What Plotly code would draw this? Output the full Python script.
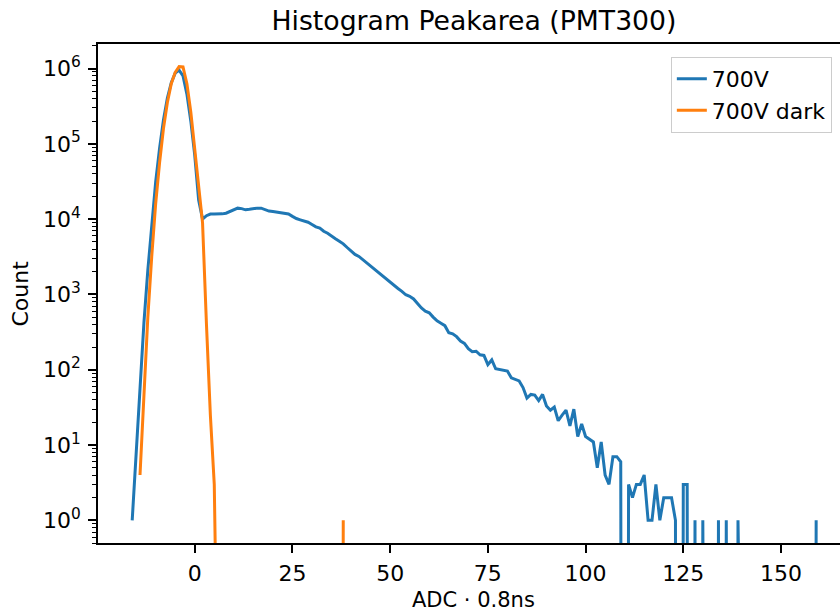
import numpy as np
import plotly.graph_objects as go

# ---- data (bin positions in ADC*0.8ns, counts per bin) ----
bins_700v = list(range(-16, 160))
counts_700v = [
    1, 8, 68, 420, 2100, 8900, 31000, 87000, 208000, 405000,
    650000, 870000, 955000, 800000, 457000, 200000, 71000, 18000, 10000, 11100,
    11700, 11700, 11700, 11750, 12000, 12600, 13300, 14000, 13800, 13300,
    13500, 13800, 14000, 14000, 13300, 12800, 12600, 12300, 12200, 12000,
    11700, 10900, 10200, 9800, 9400, 9100, 8500, 7900, 7600, 6900,
    6500, 5900, 5500, 5100, 4700, 4200, 3750, 3400, 3200, 2900,
    2620, 2400, 2140, 1950, 1740, 1600, 1450, 1320, 1200, 1100,
    990, 945, 870, 760, 660, 600, 570, 500, 445, 415,
    385, 310, 300, 275, 240, 224, 190, 174, 176, 158,
    155, 117, 135, 103, 100, 97, 96, 78, 74, 71,
    58, 42, 47, 46, 39, 47, 33, 29, 32, 21,
    25, 29, 18, 30, 13, 19, 13, 12, 11, 5,
    11, 4, 3, 7, 7, 6, 0, 3, 2, 3,
    3, 4, 1, 1, 3, 1, 2, 2, 2, 1,
    0, 3, 3, 0, 1, 0, 1, 0, 0, 0,
    1, 0, 1, 0, 0, 1, 0, 0, 0, 0,
    0, 0, 0, 0, 0, 0, 0, 0, 0, 0,
    0, 0, 0, 0, 0, 1,
]

bins_dark = list(range(-14, 39))
counts_dark = [
    4, 56, 500, 3200, 16000, 56000, 160000, 355000, 630000, 890000,
    1060000, 1050000, 630000, 263000, 89000, 28000, 8900, 400, 25, 3,
    0, 0, 0, 0, 0, 0, 0, 0, 0, 0,
    0, 0, 0, 0, 0, 0, 0, 0, 0, 0,
    0, 0, 0, 0, 0, 0, 0, 0, 0, 0,
    0, 0, 1,
]

series_names = ["700V", "700V dark"]
x_tick_vals = [0, 25, 50, 75, 100, 125, 150]
y_tick_vals = [1, 10, 100, 1000, 10000, 100000, 1000000]
y_tick_text = ["10<sup>0</sup>", "10<sup>1</sup>", "10<sup>2</sup>", "10<sup>3</sup>",
               "10<sup>4</sup>", "10<sup>5</sup>", "10<sup>6</sup>"]
title_text = "Histogram Peakarea (PMT300)"
x_label = "ADC · 0.8ns"
y_label = "Count"

# zero counts are pushed far below the axis, as a log axis would do
def for_log(c):
    c = np.asarray(c, dtype=float)
    return np.where(c > 0, c, 1e-30)

FONT = "DejaVu Sans"
fig = go.Figure()
fig.add_trace(go.Scatter(x=bins_700v, y=for_log(counts_700v), mode="lines",
                         name=series_names[0], line=dict(color="#1f77b4", width=3)))
fig.add_trace(go.Scatter(x=bins_dark, y=for_log(counts_dark), mode="lines",
                         name=series_names[1], line=dict(color="#ff7f0e", width=3)))

minor_vals = [k * 10.0 ** n for n in range(-1, 7) for k in range(2, 10)]

fig.update_layout(
    width=840, height=611,
    margin=dict(l=98, r=0, t=44, b=68),
    paper_bgcolor="white", plot_bgcolor="white",
    font=dict(family=FONT, size=22, color="black"),
    showlegend=True,
    legend=dict(x=0.989, y=0.974, xanchor="right", yanchor="top",
                bgcolor="white", bordercolor="#cccccc", borderwidth=1,
                font=dict(size=22, family=FONT)),
    title=dict(text=title_text, x=(474 - 98) / 742, xref="paper", xanchor="center",
               y=1 - 21 / 611, yref="container", yanchor="middle",
               font=dict(size=26.7, family=FONT)),
    annotations=[
        dict(text=x_label, xref="paper", yref="paper", x=(474 - 98) / 742,
             y=(543 - 600) / 499, xanchor="center", yanchor="middle",
             showarrow=False, font=dict(size=21, family=FONT)),
        dict(text=y_label, xref="paper", yref="paper", x=(20 - 98) / 742, y=0.5,
             xanchor="center", yanchor="middle", textangle=-90,
             showarrow=False, font=dict(size=22, family=FONT)),
    ],
)
fig.update_xaxes(range=[-24.75, 165.1], showgrid=False, zeroline=False,
                 showline=True, linecolor="black", linewidth=1.6, mirror=True,
                 ticks="outside", ticklen=8, tickwidth=1.6, tickcolor="black",
                 tickmode="array", tickvals=x_tick_vals, ticklabelstandoff=2,
                 tickfont=dict(size=22, family=FONT))
fig.update_yaxes(type="log", range=[-0.301, 6.326], showgrid=False, zeroline=False,
                 showline=True, linecolor="black", linewidth=1.6,
                 ticks="outside", ticklen=8, tickwidth=1.6, tickcolor="black",
                 tickmode="array", tickvals=y_tick_vals, ticktext=y_tick_text,
                 ticklabelstandoff=3,
                 tickfont=dict(size=22, family=FONT),
                 minor=dict(ticks="outside", ticklen=4.4, tickwidth=1.2,
                            tickcolor="black", tickmode="array",
                            tickvals=minor_vals, showgrid=False))

fig.write_html("out.html")
